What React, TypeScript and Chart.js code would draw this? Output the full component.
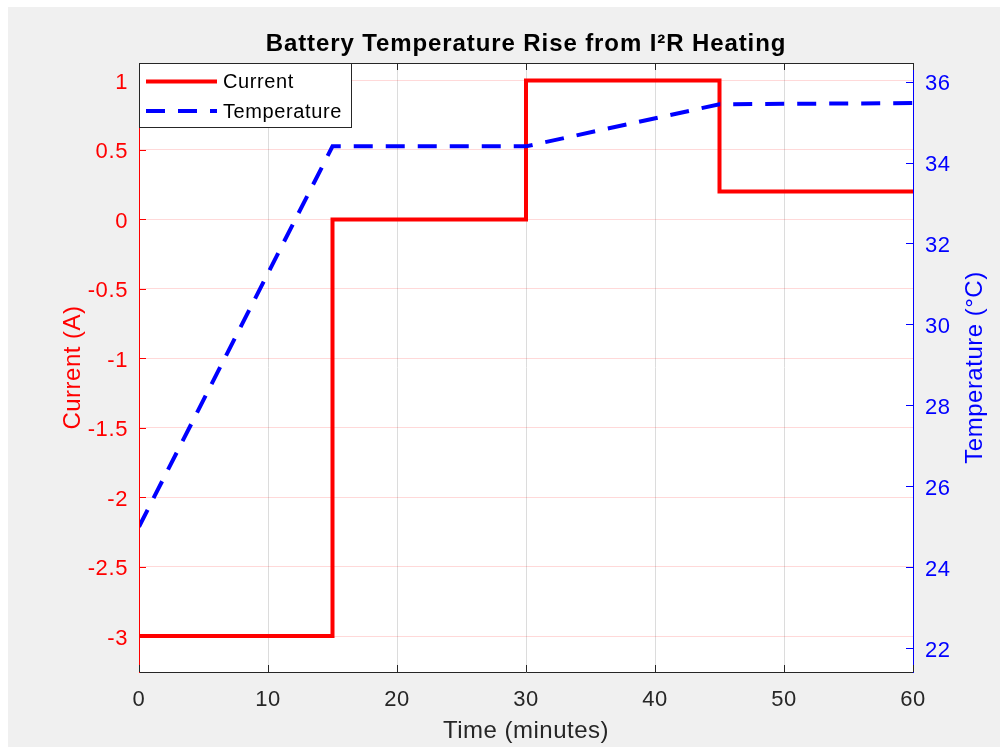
import { useEffect, useRef } from "react";
import { Chart, registerables } from "chart.js";

Chart.register(...registerables);

// ---- data ----
const timeMinutes = [0, 15, 30, 45, 60];
const currentAmps = [-3, 0, 1, 0.2, 0.2];
const temperatureTime = [0, 15, 30, 45, 60];
const temperatureC = [25, 34.4, 34.4, 35.44, 35.47];

const xTickValues = [0, 10, 20, 30, 40, 50, 60];
const xTickLabels = ["0", "10", "20", "30", "40", "50", "60"];
const currentTickValues = [1, 0.5, 0, -0.5, -1, -1.5, -2, -2.5, -3];
const currentTickLabels = ["1", "0.5", "0", "-0.5", "-1", "-1.5", "-2", "-2.5", "-3"];
const tempTickValues = [22, 24, 26, 28, 30, 32, 34, 36];
const tempTickLabels = ["22", "24", "26", "28", "30", "32", "34", "36"];

const titleText = "Battery Temperature Rise from I\u00B2R Heating";
const xLabelText = "Time (minutes)";
const yLeftLabelText = "Current (A)";
const yRightLabelText = "Temperature (\u00B0C)";
const legendLabels = ["Current", "Temperature"];

const FONT = '"Liberation Sans", Arial, Helvetica, sans-serif';
const RED = "#ff0000";
const BLUE = "#0000ff";
const AXIS = "#262626";
const DASH = [19, 13];

const matlabPlugin = {
  id: "matlabLook",
  beforeDraw(chart: any) {
    const { ctx, width, height, chartArea: a } = chart;
    ctx.save();
    ctx.fillStyle = "#f0f0f0";
    ctx.fillRect(0, 0, width, height);
    ctx.fillStyle = "#ffffff";
    ctx.fillRect(a.left, a.top, a.right - a.left, a.bottom - a.top);
    ctx.restore();
  },
  afterDraw(chart: any) {
    const { ctx, chartArea: a, scales } = chart;
    const xs = scales.x;
    const yl = scales.y;
    const yr = scales.y1;
    const cx = (a.left + a.right) / 2;
    const cy = (a.top + a.bottom) / 2;
    ctx.save();
    ctx.lineWidth = 1;
    ctx.setLineDash([]);

    const line = (x1: number, y1: number, x2: number, y2: number, c: string) => {
      ctx.strokeStyle = c;
      ctx.beginPath();
      ctx.moveTo(x1, y1);
      ctx.lineTo(x2, y2);
      ctx.stroke();
    };
    line(a.left, a.top + 0.5, a.right, a.top + 0.5, AXIS);
    line(a.left, a.bottom + 0.5, a.right + 1, a.bottom + 0.5, AXIS);
    line(a.left + 0.5, a.top, a.left + 0.5, a.bottom + 1, RED);
    line(a.right + 0.5, a.top, a.right + 0.5, a.bottom + 1, BLUE);

    const TL = 7;
    xTickValues.forEach((v) => {
      const px = Math.round(xs.getPixelForValue(v)) + 0.5;
      line(px, a.bottom, px, a.bottom - TL, AXIS);
      line(px, a.top, px, a.top + TL, AXIS);
    });
    currentTickValues.forEach((v) => {
      const py = Math.round(yl.getPixelForValue(v)) + 0.5;
      line(a.left, py, a.left + TL, py, RED);
    });
    tempTickValues.forEach((v) => {
      const py = Math.round(yr.getPixelForValue(v)) + 0.5;
      line(a.right, py, a.right - TL, py, BLUE);
    });

    (ctx as any).letterSpacing = "0.6px";
    ctx.font = `22px ${FONT}`;
    ctx.textBaseline = "alphabetic";
    ctx.fillStyle = AXIS;
    ctx.textAlign = "center";
    xTickValues.forEach((v, i) => {
      ctx.fillText(xTickLabels[i], xs.getPixelForValue(v), a.bottom + 34);
    });
    ctx.fillStyle = RED;
    ctx.textAlign = "right";
    currentTickValues.forEach((v, i) => {
      ctx.fillText(currentTickLabels[i], a.left - 11, yl.getPixelForValue(v) + 8.5);
    });
    ctx.fillStyle = BLUE;
    ctx.textAlign = "left";
    tempTickValues.forEach((v, i) => {
      ctx.fillText(tempTickLabels[i], a.right + 12, yr.getPixelForValue(v) + 8.5);
    });

    ctx.font = `24px ${FONT}`;
    (ctx as any).letterSpacing = "0.5px";
    ctx.textAlign = "center";
    ctx.fillStyle = AXIS;
    ctx.fillText(xLabelText, cx, a.bottom + 66);

    ctx.save();
    ctx.translate(a.left - 59, cy);
    ctx.rotate(-Math.PI / 2);
    ctx.fillStyle = RED;
    ctx.fillText(yLeftLabelText, 0, 0);
    ctx.restore();

    ctx.save();
    ctx.translate(a.right + 69, cy);
    ctx.rotate(-Math.PI / 2);
    ctx.fillStyle = BLUE;
    ctx.fillText(yRightLabelText, 0, 0);
    ctx.restore();

    ctx.font = `bold 24px ${FONT}`;
    (ctx as any).letterSpacing = "0.9px";
    ctx.fillStyle = "#000000";
    ctx.fillText(titleText, cx, a.top - 12);

    const lx = a.left;
    const ly = a.top;
    const lw = 212;
    const lh = 64;
    ctx.fillStyle = "#ffffff";
    ctx.fillRect(lx, ly, lw, lh);
    ctx.strokeStyle = AXIS;
    ctx.lineWidth = 1;
    ctx.strokeRect(lx + 0.5, ly + 0.5, lw, lh);

    const rows = [
      { y: ly + 18.5, color: RED, dash: [] as number[] },
      { y: ly + 48, color: BLUE, dash: DASH },
    ];
    rows.forEach((r, i) => {
      ctx.strokeStyle = r.color;
      ctx.lineWidth = 4;
      ctx.setLineDash(r.dash);
      ctx.beginPath();
      ctx.moveTo(lx + 7, r.y);
      ctx.lineTo(lx + 78, r.y);
      ctx.stroke();
      ctx.setLineDash([]);
      ctx.font = `20px ${FONT}`;
      (ctx as any).letterSpacing = "0.6px";
      ctx.fillStyle = "#000000";
      ctx.textAlign = "left";
      ctx.textBaseline = "middle";
      ctx.fillText(legendLabels[i], lx + 84, r.y + 1);
    });

    ctx.restore();
  },
};

export default function App() {
  const canvasRef = useRef<HTMLCanvasElement | null>(null);

  useEffect(() => {
    const canvas = canvasRef.current;
    if (!canvas) return;
    const chart = new Chart(canvas, {
      type: "line",
      data: {
        datasets: [
          {
            label: legendLabels[1],
            data: temperatureTime.map((t, i) => ({ x: t, y: temperatureC[i] })),
            yAxisID: "y1",
            borderColor: BLUE,
            borderWidth: 4,
            borderDash: DASH,
            pointRadius: 0,
            fill: false,
            tension: 0,
          },
          {
            label: legendLabels[0],
            data: timeMinutes.map((t, i) => ({ x: t, y: currentAmps[i] })),
            yAxisID: "y",
            borderColor: RED,
            borderWidth: 4,
            pointRadius: 0,
            stepped: "before",
            fill: false,
          },
        ],
      },
      options: {
        responsive: false,
        animation: false,
        events: [],
        layout: { padding: { top: 56, left: 0, right: 0, bottom: 0 } },
        plugins: {
          legend: { display: false },
          title: { display: false },
          tooltip: { enabled: false },
        },
        scales: {
          x: {
            type: "linear",
            position: "bottom",
            min: 0,
            max: 60,
            afterBuildTicks: (s: any) => {
              s.ticks = xTickValues.map((v) => ({ value: v }));
            },
            afterFit: (s: any) => {
              s.height = 75;
            },
            ticks: { display: false },
            grid: { color: "#dcdcdc", lineWidth: 1, drawTicks: false },
            border: { display: false },
          },
          y: {
            type: "linear",
            position: "left",
            min: -3.259,
            max: 1.126,
            afterBuildTicks: (s: any) => {
              s.ticks = currentTickValues.map((v) => ({ value: v }));
            },
            afterFit: (s: any) => {
              s.width = 131;
            },
            ticks: { display: false },
            grid: { color: "rgba(255,0,0,0.15)", lineWidth: 1, drawTicks: false },
            border: { display: false },
          },
          y1: {
            type: "linear",
            position: "right",
            min: 21.41,
            max: 36.46,
            afterBuildTicks: (s: any) => {
              s.ticks = tempTickValues.map((v) => ({ value: v }));
            },
            afterFit: (s: any) => {
              s.width = 87;
            },
            ticks: { display: false },
            grid: { display: false, drawTicks: false },
            border: { display: false },
          },
        },
      },
      plugins: [matlabPlugin],
    } as any);
    return () => chart.destroy();
  }, []);

  return (
    <div style={{ position: "fixed", left: 8, top: 7, width: 992, height: 740 }}>
      <canvas ref={canvasRef} width={992} height={740} style={{ width: 992, height: 740, display: "block" }} />
    </div>
  );
}
